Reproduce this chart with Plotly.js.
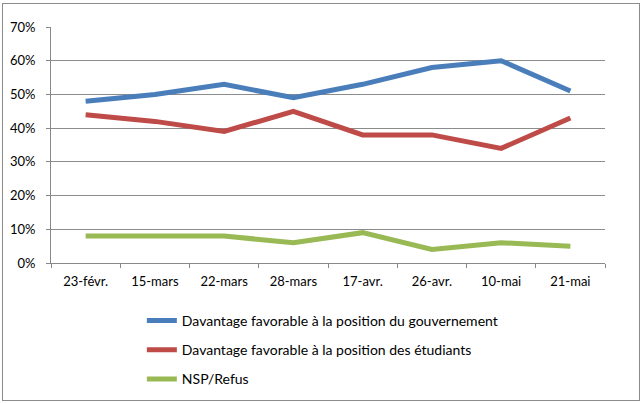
<!DOCTYPE html>
<html><head><meta charset="utf-8">
<script src="https://cdn.plot.ly/plotly-3.0.1.min.js"></script>
<style>
html,body{margin:0;padding:0;background:#fff;}
#frame{position:absolute;left:2px;top:3px;width:636px;height:396px;border:1px solid #8c8c8c;}
#chart{width:636px;height:396px;}
</style></head>
<body><div id="frame"><div id="chart"></div></div>
<script>
const categories = ["23-févr.","15-mars","22-mars","28-mars","17-avr.","26-avr.","10-mai","21-mai"];
const gouvernement = [0.48,0.50,0.53,0.49,0.53,0.58,0.60,0.51];
const etudiants = [0.44,0.42,0.39,0.45,0.38,0.38,0.34,0.43];
const nspRefus = [0.08,0.08,0.08,0.06,0.09,0.04,0.06,0.05];
const seriesNames = ["Davantage favorable à la position du gouvernement","Davantage favorable à la position des étudiants","NSP/Refus"];
const colors = ["#4a7ebb","#be4b48","#98b954"];
const values = [gouvernement, etudiants, nspRefus];
const font = "Lato, 'Open Sans', sans-serif";
const traces = values.map((v,i)=>({
  x: categories, y: v, type:"scatter", mode:"lines", name: seriesNames[i],
  legendgroup: "g"+i,
  line:{color:colors[i], width:5}
}));
const layout = {
  width:636, height:396,
  margin:{l:48, r:34, t:23, b:137},
  paper_bgcolor:"#fff", plot_bgcolor:"#fff",
  font:{family:font, size:13, color:"#000"},
  showlegend:true,
  legend:{xref:"paper", yref:"container", x:0.164, y:0.24, xanchor:"left", yanchor:"top", orientation:"v",
    traceorder:"grouped", tracegroupgap:8, font:{family:font, size:14, color:"#000"}},
  xaxis:{type:"category", range:[-0.5, categories.length-0.5], tickson:"boundaries", ticks:"outside", ticklen:4, tickcolor:"#888",
    showline:true, linecolor:"#888", linewidth:1, showgrid:false, fixedrange:true, automargin:false,
    ticklabelstandoff:6, tickfont:{family:font, size:13}},
  yaxis:{range:[0,0.7], dtick:0.1, tickformat:".0%", ticks:"outside", ticklen:4, tickcolor:"#888",
    showline:true, linecolor:"#888", gridcolor:"#8c8c8c", gridwidth:1, zeroline:false, automargin:false,
    ticklabelstandoff:8, tickfont:{family:font, size:13}}
};
Plotly.newPlot("chart", traces, layout, {displayModeBar:false, staticPlot:true});
</script></body></html>
